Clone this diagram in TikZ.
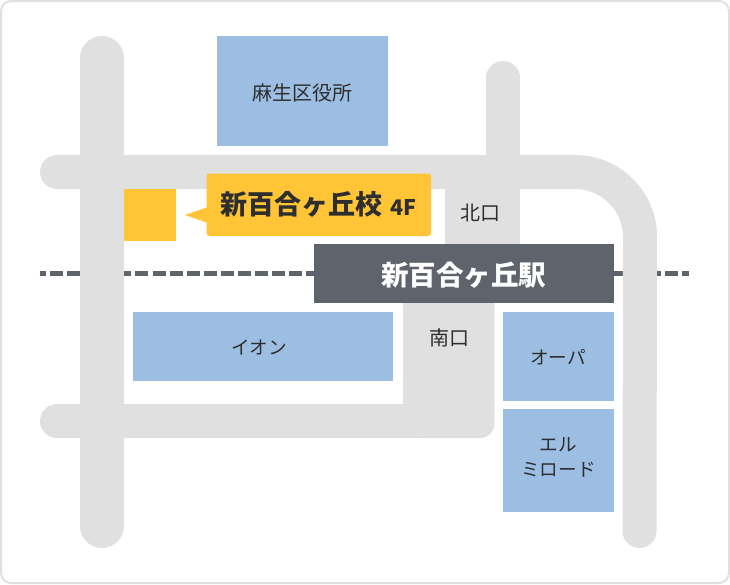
\documentclass[tikz,border=0pt]{standalone}
\usepackage{fontspec}
\setmainfont{Noto Sans CJK JP}
\definecolor{roadc}{HTML}{E0E0E0}
\definecolor{bluec}{HTML}{9BBEE2}
\definecolor{yelc}{HTML}{FFC536}
\definecolor{stac}{HTML}{5F636B}
\definecolor{txtc}{HTML}{2E2E2E}
\tikzset{
  road/.style={draw=roadc,line width=#1,line cap=round},
  road/.default=34pt,
  fillroad/.style={fill=roadc,draw=none},
  bldg/.style={fill=bluec,draw=none,inner sep=0pt,outer sep=0pt,anchor=north west},
  lbl/.style={text=txtc,font=\fontsize{20}{25}\selectfont,inner sep=0pt,align=center},
  kana/.style={lbl,font=\fontsize{18.6}{25}\selectfont},
  railbit/.style={fill=stac,draw=none},
}
\begin{document}
\begin{tikzpicture}[x=1pt,y=-1pt]
\useasboundingbox (0,0) rectangle (730,584);
\fill[white] (0,0) rectangle (730,584);
\draw[roadc,line width=2pt,fill=white] (1,1) [rounded corners=10pt] rectangle (729,583);
% railway
\fill[railbit] (40,270.8) rectangle (46,276.4);
\draw[stac,line width=5.6pt,dash pattern=on 13pt off 4.085pt] (50,273.6) -- (678.3,273.6);
\fill[railbit] (682,270.8) rectangle (689,276.4);
% roads
\draw[road=44pt] (102,58) -- (102,526);
\draw[road] (57,172) -- (575,172) arc[start angle=90,end angle=0,radius=65pt] -- (639.5,531);
\draw[road] (503,78) -- (503,172);
\fill[fillroad] (445,189) rectangle (520,245);
\fill[fillroad,rounded corners=14pt] (403,270) -- (494.3,270) -- (494.3,438) -- (403,438) -- cycle;
\draw[road] (57,421) -- (420,421);
% buildings
\node[bldg,minimum width=170.5pt,minimum height=110pt] (ward) at (217,36) {};
\node[bldg,minimum width=260.3pt,minimum height=69.3pt] (aeon) at (133,311.7) {};
\node[bldg,minimum width=110.7pt,minimum height=89.3pt] (opa) at (503,311.7) {};
\node[bldg,minimum width=110.7pt,minimum height=103pt] (elm) at (503,409) {};
\node[lbl] (wardtext) at (302,93) {麻生区役所};
\node[kana] (aeontext) at (259,347) {イオン};
\node[kana] (opatext) at (558,357) {オーパ};
\node[kana] (elmtext) at (558.5,457.5) {エル\\ミロード};
% school
\node[fill=yelc,draw=none,inner sep=0pt,outer sep=0pt,anchor=north west,minimum width=52pt,minimum height=52pt] (sq) at (124,189) {};
\fill[yelc] (185,215) -- (208,207) -- (208,223) -- cycle;
\node[fill=yelc,draw=none,rounded corners=3pt,inner sep=0pt,outer sep=0pt,anchor=north west,minimum width=224.5pt,minimum height=62.5pt] (call) at (206.5,173.5) {};
\node[anchor=west,inner sep=0pt,text=txtc,font=\fontsize{27}{32}\selectfont\bfseries] (calltext) at (220.5,204) {新百合ヶ丘校};
\node[anchor=west,inner sep=0pt,text=txtc,font=\fontsize{21.5}{26}\selectfont\bfseries] (floor) at (390.5,207) {4F};
% station
\node[fill=stac,draw=none,inner sep=0pt,outer sep=0pt,anchor=north west,minimum width=300.2pt,minimum height=59pt] (sta) at (313.5,244) {};
\node[inner sep=0pt,text=white,font=\fontsize{27.5}{32}\selectfont\bfseries] (statext) at (463.5,275.5) {新百合ヶ丘駅};
\node[lbl] (north) at (480.5,213) {北口};
\node[lbl] (south) at (449,338) {南口};
\end{tikzpicture}
\end{document}
